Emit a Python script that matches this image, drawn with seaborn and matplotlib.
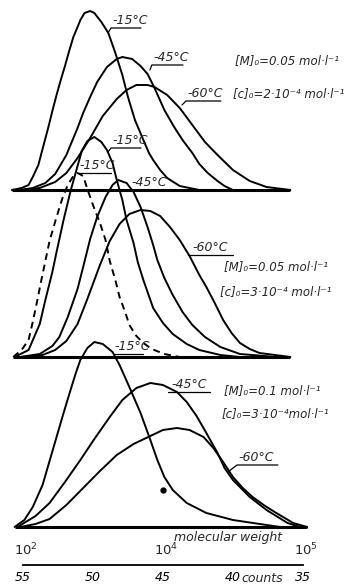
import numpy as np
import pandas as pd
import seaborn as sns
import matplotlib.pyplot as plt

sns.set_theme(style="white")
plt.rcParams['font.family'] = ['DejaVu Sans']

# elution count and detector height above baseline (arbitrary units)
# panel 1: [M]0 = 0.05, [c]0 = 2e-4
top_15_x = [55.8, 55.1, 54.6, 54.3, 53.9, 53.6, 53.2, 52.9, 52.6, 52.3, 52.0, 51.7, 51.4, 51.1, 50.9,
            50.6, 50.2, 49.9, 49.4, 48.9, 48.4, 47.9, 47.5, 47.0, 46.4, 46.0, 45.7, 45.2, 44.7, 43.8, 42.4]
top_15_y = [0, 2, 5, 13, 25, 41, 62, 79, 95, 110, 124, 139, 153, 163, 170,
            177, 179, 177, 168, 157, 137, 115, 93, 70, 50, 37, 30, 20, 12, 4, 0]
top_45_x = [55.2, 54.3, 53.4, 52.7, 51.9, 51.1, 50.7, 50.2, 49.7, 49.0, 48.3, 47.9, 47.2, 46.6, 46.1,
            45.6, 44.9, 44.2, 43.6, 42.9, 42.4, 41.8, 41.1, 40.6, 40.0]
top_45_y = [0, 2, 7, 16, 35, 62, 77, 93, 108, 123, 131, 133, 131, 124, 116,
            102, 80, 63, 50, 37, 26, 17, 9, 4, 0]
top_60_x = [55.2, 53.8, 52.7, 51.9, 51.1, 50.2, 49.3, 48.3, 47.6, 46.9, 46.1, 45.6, 44.7, 43.8, 42.9,
            42.0, 41.1, 40.0, 38.8, 37.6, 35.9]
top_60_y = [0, 2, 8, 17, 32, 52, 74, 91, 100, 105, 105, 103, 95, 82, 65,
            48, 35, 20, 9, 3, 0]

# panel 2: [M]0 = 0.05, [c]0 = 3e-4 (dashed = -15 C reference run)
mid_15d_x = [55.7, 55.1, 54.6, 54.3, 54.0, 53.7, 53.4, 53.1, 52.6, 52.2, 51.8, 51.4, 51.1, 50.7,
             50.4, 50.0, 49.5, 49.1, 48.8, 48.4, 48.1, 47.7, 47.4, 46.9, 46.4, 45.8, 44.9, 43.8]
mid_15d_y = [0, 7, 17, 35, 55, 76, 96, 116, 140, 158, 172, 181, 184, 181,
             168, 152, 134, 117, 96, 77, 60, 45, 32, 21, 14, 8, 3, 0]
mid_15_x = [55.6, 54.6, 53.8, 53.4, 52.9, 52.6, 52.1, 51.6, 51.1, 50.8, 50.4, 49.9, 49.4, 49.0,
            48.6, 48.3, 47.9, 47.6, 47.1, 46.8, 46.4, 45.7, 45.0, 44.3, 43.3, 42.4, 40.9, 39.5]
mid_15_y = [0, 7, 33, 57, 85, 105, 137, 166, 191, 206, 216, 220, 215, 207,
            194, 177, 157, 137, 114, 95, 77, 49, 34, 23, 13, 7, 2, 0]
mid_45_x = [55.2, 53.8, 52.9, 52.4, 51.8, 51.1, 50.7, 50.2, 49.7, 49.1, 48.6, 48.2, 47.6, 47.1,
            46.6, 46.1, 45.7, 45.4, 44.9, 44.3, 43.6, 42.9, 42.0, 40.9, 39.5, 36.9]
mid_45_y = [0, 3, 11, 20, 40, 68, 90, 118, 140, 160, 172, 177, 174, 165,
            150, 130, 112, 97, 79, 62, 45, 32, 20, 10, 3, 0]
mid_60_x = [55.1, 53.6, 52.7, 51.9, 51.1, 50.4, 49.5, 48.8, 48.1, 47.4, 46.6, 45.9, 45.2, 44.5,
            43.8, 43.1, 42.4, 41.9, 41.3, 40.7, 40.1, 39.5, 38.8, 38.1, 35.9]
mid_60_y = [0, 2, 7, 16, 33, 58, 92, 116, 133, 143, 147, 146, 141, 130,
            117, 101, 82, 70, 54, 37, 24, 14, 8, 4, 0]

# panel 3: [M]0 = 0.1, [c]0 = 3e-4
bot_15_x = [55.6, 54.9, 54.3, 53.6, 53.1, 52.6, 52.1, 51.6, 51.2, 50.9, 50.4, 49.9, 49.3, 48.6,
            48.1, 47.4, 46.6, 45.9, 45.4, 44.9, 44.3, 43.3, 41.9, 40.0, 37.6, 36.6]
bot_15_y = [0, 7, 20, 42, 66, 90, 114, 137, 155, 167, 179, 185, 183, 175,
            162, 140, 114, 87, 67, 50, 37, 24, 14, 7, 2, 0]
bot_45_x = [55.4, 54.1, 53.1, 52.0, 50.9, 49.9, 48.8, 47.9, 46.9, 45.9, 45.0, 44.0, 43.3, 42.6,
            41.9, 41.1, 40.6, 40.0, 38.8, 37.6, 36.1, 35.2]
bot_45_y = [0, 11, 24, 45, 67, 88, 110, 127, 139, 144, 142, 135, 125, 111,
            94, 74, 59, 47, 30, 17, 4, 0]
bot_60_x = [55.2, 54.1, 53.1, 51.9, 50.7, 49.5, 48.3, 47.1, 45.9, 45.0, 44.0, 43.1, 42.1, 41.4,
            40.7, 40.0, 39.3, 38.6, 37.7, 36.9, 35.7, 34.7]
bot_60_y = [0, 3, 8, 22, 39, 56, 72, 83, 91, 97, 99, 97, 90, 79,
            65, 50, 39, 30, 21, 14, 4, 0]

count_ticks = [55, 50, 45, 40, 35]
count_labels = ["55", "50", "45", "40", "35"]
mw_counts = [55, 45, 35]
mw_labels = ["$10^2$", "$10^4$", "$10^5$"]

# vertical offsets of the three stacked panels
offsets = {"top": 396, "mid": 229, "bot": 59}

curves = [
    ("top", top_15_x, top_15_y, "-"), ("top", top_45_x, top_45_y, "-"), ("top", top_60_x, top_60_y, "-"),
    ("mid", mid_15d_x, mid_15d_y, "--"), ("mid", mid_15_x, mid_15_y, "-"),
    ("mid", mid_45_x, mid_45_y, "-"), ("mid", mid_60_x, mid_60_y, "-"),
    ("bot", bot_15_x, bot_15_y, "-"), ("bot", bot_45_x, bot_45_y, "-"), ("bot", bot_60_x, bot_60_y, "-"),
]

fig = plt.figure(figsize=(3.56, 5.86), dpi=100)
ax = fig.add_axes([0, 0, 1, 1])
ax.set_xlim(56.64, 31.21)
ax.set_ylim(0, 586)

for panel, xs, ys, ls in curves:
    df = pd.DataFrame({"count": xs, "h": np.array(ys) + offsets[panel]})
    line = sns.lineplot(data=df, x="count", y="h", ax=ax, color="black", sort=False, lw=1.4)
    if ls == "--":
        line.lines[-1].set_dashes((3.5, 2.5))
    line.lines[-1].set_solid_joinstyle("round")

# thick baselines under each panel
for panel in offsets:
    xs = [x for p, cx, _, _ in curves if p == panel for x in cx]
    ax.hlines(offsets[panel], min(xs), max(xs), color="black", lw=2.2)

ax.plot([45.0], [96], marker="o", ms=3.5, color="black")  # stray spot on the print


def tag(x0, y0, x1, y1, x2, text):
    ax.plot([x0, x1, x2], [y0, y1, y1], color="black", lw=0.9)
    ax.text(x1 - 0.1, y1 + 1, text, ha="left", va="bottom", fontsize=9, style="italic")


tag(48.93, 553, 48.71, 558, 46.57, "-15°C")
tag(45.93, 516, 45.79, 521, 43.57, "-45°C")
tag(43.64, 481, 43.36, 485, 40.86, "-60°C")

tag(48.93, 434, 48.71, 438, 46.57, "-15°C")
tag(51.07, 413, 51.07, 413, 48.71, "-15°C")
tag(47.36, 396, 47.36, 396, 44.71, "-45°C")
tag(43.2, 331, 43.0, 331, 40.0, "-60°C")

tag(48.57, 232, 48.57, 232, 46.43, "-15°C")
tag(44.64, 194, 44.5, 194, 41.64, "-45°C")
tag(40.36, 114, 39.71, 121, 36.79, "-60°C")

pfont = dict(ha="left", va="center", fontsize=8.5, style="italic")
ax.text(39.86, 525, "[M]₀=0.05 mol·l⁻¹", **pfont)
ax.text(40.0, 492, "[c]₀=2·10⁻⁴ mol·l⁻¹", **pfont)
ax.text(40.64, 319, "[M]₀=0.05 mol·l⁻¹", **pfont)
ax.text(40.93, 294, "[c]₀=3·10⁻⁴ mol·l⁻¹", **pfont)
ax.text(40.64, 195, "[M]₀=0.1 mol·l⁻¹", **pfont)
ax.text(40.79, 172, "[c]₀=3·10⁻⁴mol·l⁻¹", **pfont)

# count axis with molecular-weight marks above it
for side in ["top", "left", "right"]:
    ax.spines[side].set_visible(False)
ax.spines["bottom"].set_position(("data", 21))
ax.spines["bottom"].set_bounds(35, 55)
ax.spines["bottom"].set_linewidth(1.3)
ax.spines["bottom"].set_color("black")
ax.set_xticks(count_ticks)
ax.set_xticklabels(count_labels, fontsize=9, style="italic")
ax.tick_params(axis="x", direction="inout", length=6, width=1.2, pad=1, colors="black")
ax.set_yticks([])
ax.set_xlabel("")
ax.set_ylabel("")
ax.text(37.9, 8, "counts", ha="center", va="center", fontsize=9, style="italic")
for c, lab in zip(mw_counts, mw_labels):
    ax.text(c - 0.2, 28, lab, ha="center", va="bottom", fontsize=9.5, style="italic")
ax.text(40.36, 48, "molecular weight", ha="center", va="center", fontsize=9, style="italic")

fig.savefig("out.png", dpi=100)
